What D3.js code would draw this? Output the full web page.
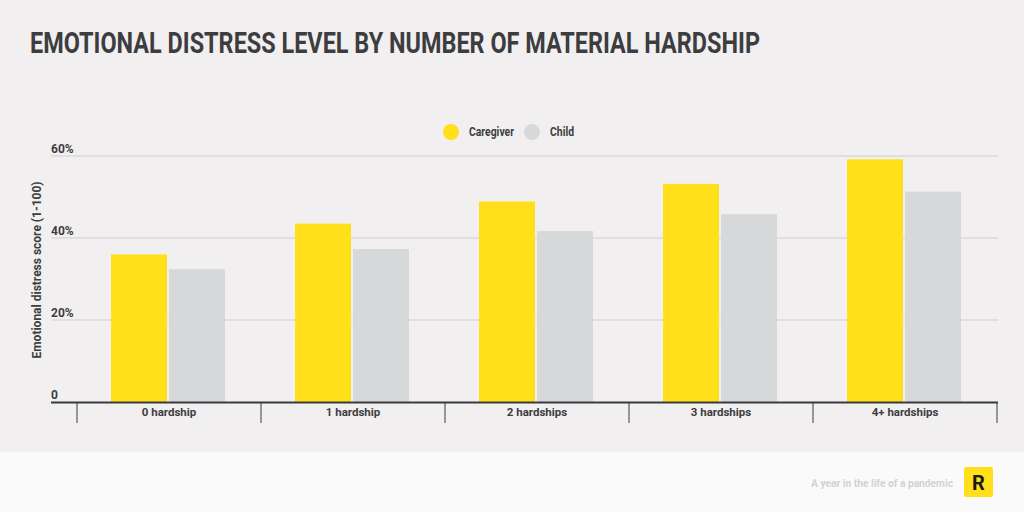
<!DOCTYPE html>
<html>
<head>
<meta charset="utf-8">
<script src="https://cdnjs.cloudflare.com/ajax/libs/d3/7.8.5/d3.min.js"></script>
<style>
  body { margin: 0; background: #f1eff0; }
  svg { display: block; }
  text { font-family: "Liberation Sans Narrow", "Roboto", sans-serif; font-weight: bold; }
</style>
</head>
<body>
<svg></svg>
<script>
const categories = ["0 hardship", "1 hardship", "2 hardships", "3 hardships", "4+ hardships"];
const series = ["Caregiver", "Child"];
const caregiverValues = [36.0, 43.5, 48.9, 53.2, 59.2];
const childValues = [32.4, 37.3, 41.7, 45.8, 51.3];
const yTicks = [0, 20, 40, 60];

const width = 1024;
const height = 512;
const svg = d3.select("svg")
    .attr("width", width)
    .attr("height", height);

const colors = d3.scaleOrdinal().domain(series).range(["#ffe01b", "#d7d8d9"]);
const textColor = "#3d3d40";

svg.append("rect")
    .attr("x", 0).attr("y", 0)
    .attr("width", width).attr("height", 452)
    .attr("fill", "#f1eff0");
svg.append("rect")
    .attr("x", 0).attr("y", 452)
    .attr("width", width).attr("height", 60)
    .attr("fill", "#fafafa");

// title
svg.append("text")
    .attr("x", 30)
    .attr("y", 53)
    .attr("textLength", 730)
    .attr("lengthAdjust", "spacingAndGlyphs")
    .attr("font-size", 29)
    .attr("fill", textColor)
    .text("EMOTIONAL DISTRESS LEVEL BY NUMBER OF MATERIAL HARDSHIP");

const x = d3.scaleBand()
    .domain(categories)
    .range([77, 997])
    .paddingInner(0)
    .paddingOuter(0);

const y = d3.scaleLinear()
    .domain([0, 60])
    .range([402, 156]);

const groupWidth = 114;
const xInner = d3.scaleBand()
    .domain(series)
    .range([0, groupWidth])
    .paddingInner(0.035);

// grid
svg.append("g")
    .selectAll("line")
    .data(yTicks.filter(d => d > 0))
    .join("line")
    .attr("x1", 51)
    .attr("x2", 998)
    .attr("y1", d => y(d))
    .attr("y2", d => y(d))
    .attr("stroke", "#cfcdce")
    .attr("stroke-width", 1);

svg.append("g")
    .selectAll("text")
    .data(yTicks)
    .join("text")
    .attr("x", 51)
    .attr("y", d => y(d) - 3)
    .attr("font-size", 12)
    .attr("fill", textColor)
    .text(d => d === 0 ? "0" : d + "%");

// bars
const rows = categories.map((c, i) => ({ category: c, values: [caregiverValues[i], childValues[i]] }));

const groups = svg.append("g")
    .selectAll("g")
    .data(rows)
    .join("g")
    .attr("transform", d => `translate(${x(d.category) + 34},0)`);

groups.selectAll("rect")
    .data(d => d.values.map((v, i) => ({ key: series[i], value: v })))
    .join("rect")
    .attr("x", d => xInner(d.key))
    .attr("y", d => y(d.value))
    .attr("width", xInner.bandwidth())
    .attr("height", d => y(0) - y(d.value))
    .attr("fill", d => colors(d.key));

// x axis
svg.append("line")
    .attr("x1", 51).attr("x2", 998)
    .attr("y1", 402.5).attr("y2", 402.5)
    .attr("stroke", "#3a3a3c")
    .attr("stroke-width", 2);

const tickPositions = categories.map(c => x(c)).concat([x.range()[1]]);
svg.append("g")
    .selectAll("line")
    .data(tickPositions)
    .join("line")
    .attr("x1", d => d).attr("x2", d => d)
    .attr("y1", 402).attr("y2", 423)
    .attr("stroke", "#3a3a3c")
    .attr("stroke-width", 1);

svg.append("g")
    .selectAll("text")
    .data(categories)
    .join("text")
    .attr("x", d => x(d) + x.bandwidth() / 2)
    .attr("y", 416)
    .attr("text-anchor", "middle")
    .attr("font-size", 11.5)
    .attr("fill", textColor)
    .text(d => d);

// y axis title
svg.append("text")
    .attr("transform", "translate(41,270) rotate(-90)")
    .attr("text-anchor", "middle")
    .attr("font-size", 12)
    .attr("fill", textColor)
    .text("Emotional distress score (1-100)");

// legend
const legend = svg.append("g");
const legendItems = [
    { key: "Caregiver", cx: 451, tx: 469, len: 45 },
    { key: "Child", cx: 532, tx: 550, len: 24 }
];
legend.selectAll("circle")
    .data(legendItems)
    .join("circle")
    .attr("cx", d => d.cx)
    .attr("cy", 132)
    .attr("r", 8)
    .attr("fill", d => colors(d.key));
legend.selectAll("text")
    .data(legendItems)
    .join("text")
    .attr("x", d => d.tx)
    .attr("y", 136)
    .attr("font-size", 12)
    .attr("textLength", d => d.len)
    .attr("lengthAdjust", "spacingAndGlyphs")
    .attr("fill", textColor)
    .text(d => d.key);

// footer
svg.append("text")
    .attr("x", 811)
    .attr("y", 487)
    .attr("font-size", 11)
    .attr("textLength", 142)
    .attr("lengthAdjust", "spacingAndGlyphs")
    .attr("fill", "#d2d2d2")
    .text("A year in the life of a pandemic");

svg.append("rect")
    .attr("x", 964).attr("y", 467)
    .attr("width", 29).attr("height", 30)
    .attr("rx", 2)
    .attr("fill", "#ffe01b");
svg.append("text")
    .attr("x", 978.5)
    .attr("y", 490)
    .attr("text-anchor", "middle")
    .attr("font-size", 20)
    .attr("fill", "#1a1a1a")
    .text("R");
</script>
</body>
</html>
